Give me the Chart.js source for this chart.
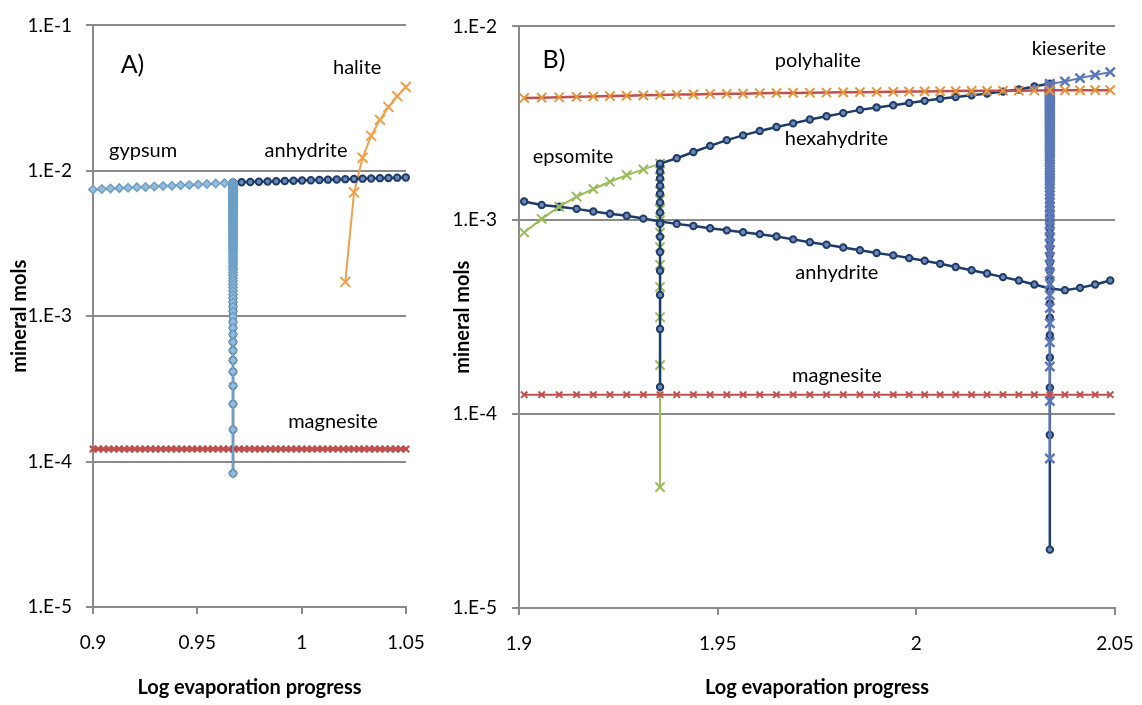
<!DOCTYPE html>
<html>
<head>
    <title>Mineral sequence during evaporation</title>
    <style>
        body {
            margin: 0;
            background: #ffffff;
            width: 1142px;
            height: 705px;
            overflow: hidden;
            position: relative;
        }
        canvas {
            position: absolute;
            top: 0;
        }
        #chartA { left: 0; }
        #chartB { left: 420px; }
    </style>
    <script src="https://cdn.jsdelivr.net/npm/chart.js"></script>
</head>
<body>
    <canvas id="chartA" width="440" height="705"></canvas>
    <canvas id="chartB" width="722" height="705"></canvas>
    <script>
        // all amounts below are in mmol, converted to mol when plotted
        const MMOL = 1e-3;

        // ---------- panel A: gypsum -> anhydrite, halite ----------
        const xTicksA = [0.9, 0.95, 1, 1.05];
        const xTickLabelsA = ['0.9', '0.95', '1', '1.05'];
        const yTicksA = [1e-5, 1e-4, 1e-3, 1e-2, 1e-1];
        const yTickLabelsA = ['1.E-5', '1.E-4', '1.E-3', '1.E-2', '1.E-1'];

        const transitionXA = 0.9671;

        const gypsumXA = [0.9000, 0.9042, 0.9084, 0.9126, 0.9168, 0.9210, 0.9252, 0.9294, 0.9336, 0.9378,
            0.9420, 0.9462, 0.9504, 0.9546, 0.9588, 0.9630, 0.9671];
        const gypsumYA = [7.45, 7.50, 7.55, 7.60, 7.65, 7.70, 7.75, 7.80, 7.85, 7.90,
            7.95, 8.00, 8.05, 8.11, 8.17, 8.23, 8.30];
        const gypsumDropA = [8.217, 8.134, 8.051, 7.968, 7.885, 7.802, 7.719, 7.636, 7.553, 7.470,
            7.387, 7.304, 7.221, 7.138, 7.055, 6.972, 6.889, 6.806, 6.723, 6.640,
            6.557, 6.474, 6.391, 6.308, 6.225, 6.142, 6.059, 5.976, 5.893, 5.810,
            5.727, 5.644, 5.561, 5.478, 5.395, 5.312, 5.229, 5.146, 5.063, 4.980,
            4.897, 4.814, 4.731, 4.648, 4.565, 4.482, 4.399, 4.316, 4.233, 4.150,
            4.067, 3.984, 3.901, 3.818, 3.735, 3.652, 3.569, 3.486, 3.403, 3.320,
            3.237, 3.154, 3.071, 2.988, 2.905, 2.822, 2.739, 2.656, 2.573, 2.490,
            2.407, 2.324, 2.241, 2.158, 2.075, 1.992, 1.909, 1.826, 1.743, 1.660,
            1.577, 1.494, 1.411, 1.328, 1.245, 1.162, 1.079, 0.996, 0.913, 0.830,
            0.747, 0.664, 0.581, 0.498, 0.415, 0.332, 0.249, 0.166, 0.083];

        const anhydriteRiseA = [0.083, 0.166, 0.249, 0.332, 0.415, 0.498, 0.581, 0.664, 0.747, 0.830,
            0.913, 0.996, 1.079, 1.162, 1.245, 1.328, 1.411, 1.494, 1.577, 1.660,
            1.743, 1.826, 1.909, 1.992, 2.075, 2.158, 2.241, 2.324, 2.407, 2.490,
            2.573, 2.656, 2.739, 2.822, 2.905, 2.988, 3.071, 3.154, 3.237, 3.320,
            3.403, 3.486, 3.569, 3.652, 3.735, 3.818, 3.901, 3.984, 4.067, 4.150,
            4.233, 4.316, 4.399, 4.482, 4.565, 4.648, 4.731, 4.814, 4.897, 4.980,
            5.063, 5.146, 5.229, 5.312, 5.395, 5.478, 5.561, 5.644, 5.727, 5.810,
            5.893, 5.976, 6.059, 6.142, 6.225, 6.308, 6.391, 6.474, 6.557, 6.640,
            6.723, 6.806, 6.889, 6.972, 7.055, 7.138, 7.221, 7.304, 7.387, 7.470,
            7.553, 7.636, 7.719, 7.802, 7.885, 7.968, 8.051, 8.134, 8.217];
        const anhydriteXA = [0.9671, 0.9712, 0.9754, 0.9795, 0.9837, 0.9878, 0.9919, 0.9961, 1.0002, 1.0044,
            1.0085, 1.0126, 1.0168, 1.0209, 1.0251, 1.0292, 1.0333, 1.0375, 1.0416, 1.0458, 1.0499];
        const anhydriteYA = [8.30, 8.34, 8.37, 8.41, 8.44, 8.48, 8.51, 8.55, 8.58, 8.62,
            8.65, 8.69, 8.72, 8.76, 8.79, 8.83, 8.86, 8.90, 8.93, 8.97, 9.00];

        const haliteXA = [1.0209, 1.0251, 1.0292, 1.0333, 1.0375, 1.0416, 1.0458, 1.0499];
        const haliteYA = [1.72, 7.1, 12.3, 17.4, 22.4, 27.5, 32.6, 37.7];

        const magnesiteXA = [0.9000, 0.9025, 0.9050, 0.9075, 0.9100, 0.9125, 0.9150, 0.9175, 0.9200, 0.9225,
            0.9250, 0.9275, 0.9300, 0.9325, 0.9350, 0.9375, 0.9400, 0.9425, 0.9450, 0.9475,
            0.9500, 0.9525, 0.9550, 0.9575, 0.9600, 0.9625, 0.9650, 0.9675, 0.9700, 0.9725,
            0.9750, 0.9775, 0.9800, 0.9825, 0.9850, 0.9875, 0.9900, 0.9925, 0.9950, 0.9975,
            1.0000, 1.0025, 1.0050, 1.0075, 1.0100, 1.0125, 1.0150, 1.0175, 1.0200, 1.0225,
            1.0250, 1.0275, 1.0300, 1.0325, 1.0350, 1.0375, 1.0400, 1.0425, 1.0450, 1.0475, 1.0500];
        const magnesiteYA = [0.122, 0.122, 0.122, 0.122, 0.122, 0.122, 0.122, 0.122, 0.122, 0.122,
            0.122, 0.122, 0.122, 0.122, 0.122, 0.122, 0.122, 0.122, 0.122, 0.122,
            0.122, 0.122, 0.122, 0.122, 0.122, 0.122, 0.122, 0.122, 0.122, 0.122,
            0.122, 0.122, 0.122, 0.122, 0.122, 0.122, 0.122, 0.122, 0.122, 0.122,
            0.122, 0.122, 0.122, 0.122, 0.122, 0.122, 0.122, 0.122, 0.122, 0.122,
            0.122, 0.122, 0.122, 0.122, 0.122, 0.122, 0.122, 0.122, 0.122, 0.122, 0.122];

        // ---------- panel B: Mg sulfates ----------
        const xTicksB = [1.9, 1.95, 2, 2.05];
        const xTickLabelsB = ['1.9', '1.95', '2', '2.05'];
        const yTicksB = [1e-5, 1e-4, 1e-3, 1e-2];
        const yTickLabelsB = ['1.E-5', '1.E-4', '1.E-3', '1.E-2'];

        const xB = [1.9013, 1.9057, 1.9101, 1.9145, 1.9187, 1.9229, 1.9271, 1.9313, 1.9355, 1.9397,
            1.9439, 1.9481, 1.9523, 1.9564, 1.9606, 1.9648, 1.9690, 1.9732, 1.9774, 1.9816,
            1.9858, 1.9900, 1.9942, 1.9982, 2.0021, 2.0060, 2.0099, 2.0139, 2.0178, 2.0218,
            2.0258, 2.0297, 2.0336, 2.0374, 2.0412, 2.0450, 2.0488];

        const polyhaliteB = [4.27, 4.29, 4.31, 4.33, 4.35, 4.37, 4.39, 4.41, 4.43, 4.45,
            4.46, 4.48, 4.49, 4.50, 4.52, 4.53, 4.54, 4.55, 4.56, 4.57,
            4.58, 4.59, 4.60, 4.61, 4.62, 4.63, 4.64, 4.65, 4.65, 4.66,
            4.66, 4.67, 4.68, 4.68, 4.68, 4.69, 4.69];

        const anhydriteB = [1.25, 1.20, 1.175, 1.145, 1.11, 1.08, 1.055, 1.02, 0.985, 0.958,
            0.935, 0.910, 0.887, 0.868, 0.848, 0.824, 0.797, 0.771, 0.748, 0.724,
            0.700, 0.678, 0.659, 0.638, 0.618, 0.596, 0.574, 0.552, 0.531, 0.509,
            0.489, 0.466, 0.445, 0.436, 0.448, 0.466, 0.489];

        const magnesiteB = [0.126, 0.126, 0.126, 0.126, 0.126, 0.126, 0.126, 0.126, 0.126, 0.126,
            0.126, 0.126, 0.126, 0.126, 0.126, 0.126, 0.126, 0.126, 0.126, 0.126,
            0.126, 0.126, 0.126, 0.126, 0.126, 0.126, 0.126, 0.126, 0.126, 0.126,
            0.126, 0.126, 0.126, 0.126, 0.126, 0.126, 0.126];

        // epsomite on xB[0..8], then dissolves at xB[8]
        const epsomiteB = [0.865, 1.016, 1.175, 1.325, 1.45, 1.58, 1.71, 1.83, 1.96];
        const epsomiteDropB = [1.823, 1.686, 1.549, 1.412, 1.275, 1.138, 1.001, 0.864, 0.727, 0.590,
            0.453, 0.316, 0.179, 0.042];

        // hexahydrite forms at xB[8], grows on xB[8..32], dissolves at xB[32]
        const hexahydriteRiseB = [0.138, 0.275, 0.412, 0.549, 0.686, 0.823, 0.960, 1.097, 1.234, 1.371,
            1.508, 1.645, 1.782, 1.919];
        const hexahydriteB = [1.96, 2.09, 2.25, 2.42, 2.59, 2.74, 2.89, 3.03, 3.16, 3.31,
            3.44, 3.57, 3.71, 3.82, 3.92, 4.03, 4.13, 4.23, 4.32, 4.41,
            4.50, 4.61, 4.73, 4.90, 5.07];
        const hexahydriteDropB = [5.018, 4.959, 4.900, 4.841, 4.782, 4.724, 4.665, 4.606, 4.547, 4.488,
            4.430, 4.371, 4.312, 4.253, 4.194, 4.136, 4.077, 4.018, 3.959, 3.900,
            3.842, 3.783, 3.724, 3.665, 3.606, 3.548, 3.489, 3.430, 3.371, 3.312,
            3.254, 3.195, 3.136, 3.077, 3.018, 2.960, 2.901, 2.842, 2.783, 2.724,
            2.666, 2.607, 2.548, 2.489, 2.430, 2.372, 2.313, 2.254, 2.195, 2.136,
            2.078, 2.019, 1.960, 1.901, 1.842, 1.784, 1.725, 1.666, 1.607, 1.548,
            1.490, 1.431, 1.372, 1.313, 1.254, 1.196, 1.137, 1.078, 1.019, 0.960,
            0.902, 0.843, 0.784, 0.725, 0.666, 0.608, 0.549, 0.490, 0.431, 0.372,
            0.314, 0.255, 0.196, 0.137, 0.078, 0.020];

        // kieserite forms at xB[32], grows on xB[33..36]
        const kieseriteRiseB = [0.059, 0.117, 0.176, 0.235, 0.294, 0.353, 0.411, 0.470, 0.529, 0.588,
            0.647, 0.705, 0.764, 0.823, 0.882, 0.941, 0.999, 1.058, 1.117, 1.176,
            1.235, 1.293, 1.352, 1.411, 1.470, 1.529, 1.587, 1.646, 1.705, 1.764,
            1.823, 1.881, 1.940, 1.999, 2.058, 2.117, 2.175, 2.234, 2.293, 2.352,
            2.411, 2.469, 2.528, 2.587, 2.646, 2.705, 2.763, 2.822, 2.881, 2.940,
            2.999, 3.057, 3.116, 3.175, 3.234, 3.293, 3.351, 3.410, 3.469, 3.528,
            3.587, 3.645, 3.704, 3.763, 3.822, 3.881, 3.939, 3.998, 4.057, 4.116,
            4.175, 4.233, 4.292, 4.351, 4.410, 4.469, 4.527, 4.586, 4.645, 4.704,
            4.763, 4.821, 4.880, 4.939, 4.998, 5.057];
        const kieseriteB = [5.20, 5.41, 5.62, 5.81];

        // ---------- helpers ----------
        const GRID = '#8a8a8a';
        const NAVY = '#1d3b6c';
        const FONT = 'Lato, sans-serif';
        Chart.defaults.font.family = FONT;

        const pts = (xs, ys) => xs.map((x, i) => ({ x: x, y: ys[i] * MMOL }));
        const column = (x, ys) => ys.map(y => ({ x: x, y: y * MMOL }));

        function series(data, color, style) {
            return Object.assign({
                data: data,
                showLine: true,
                borderColor: color,
                borderWidth: 2,
                pointBorderColor: color,
                pointBackgroundColor: color,
                pointStyle: 'crossRot',
                pointRadius: 6,
                pointBorderWidth: 2,
                clip: false
            }, style || {});
        }

        // text labels placed at data coordinates
        const textMarks = {
            id: 'textMarks',
            afterDatasetsDraw(chart, args, opts) {
                const ctx = chart.ctx;
                const xs = chart.scales.x, ys = chart.scales.y;
                ctx.save();
                ctx.fillStyle = '#000';
                ctx.textAlign = 'center';
                ctx.textBaseline = 'middle';
                opts.items.forEach(t => {
                    ctx.font = (t.size || 20) + 'px ' + FONT;
                    ctx.fillText(t.text, xs.getPixelForValue(t.x), ys.getPixelForValue(t.y));
                });
                ctx.restore();
            }
        };

        function scales(c) {
            return {
                x: {
                    type: 'linear',
                    min: c.xTicks[0],
                    max: c.xTicks[c.xTicks.length - 1],
                    afterBuildTicks: s => { s.ticks = c.xTicks.map(v => ({ value: v })); },
                    afterFit: s => {
                        s.height = c.xHeight;
                        // plot edges are set by the layout padding alone
                        s.paddingLeft = 0;
                        s.paddingRight = 0;
                    },
                    ticks: {
                        callback: (v, i) => c.xLabels[i],
                        font: { size: 19 },
                        color: '#000',
                        padding: 17,
                        maxRotation: 0,
                        autoSkip: false
                    },
                    grid: { drawOnChartArea: false, drawTicks: true, tickLength: 7, color: GRID, lineWidth: 2 },
                    border: { color: GRID, width: 2 },
                    title: {
                        display: true,
                        text: 'Log evaporation progress',
                        color: '#000',
                        font: { size: 20, weight: 'bold' },
                        padding: { top: 0, bottom: 5 }
                    }
                },
                y: {
                    type: 'logarithmic',
                    min: c.yTicks[0],
                    max: c.yTicks[c.yTicks.length - 1],
                    afterBuildTicks: s => { s.ticks = c.yTicks.map(v => ({ value: v })); },
                    afterFit: s => { s.width = c.yWidth; },
                    ticks: {
                        callback: (v, i) => c.yLabels[i],
                        font: { size: 19 },
                        color: '#000',
                        padding: c.yPad
                    },
                    grid: { drawTicks: true, tickLength: 7, color: GRID, lineWidth: 2 },
                    border: { color: GRID, width: 2 },
                    title: {
                        display: true,
                        text: 'mineral mols',
                        color: '#000',
                        font: { size: 20, weight: 'bold' },
                        padding: { top: c.yTitlePad, bottom: 0 }
                    }
                }
            };
        }

        const baseOptions = {
            responsive: false,
            devicePixelRatio: 1,
            animation: false,
            plugins: { legend: { display: false }, tooltip: { enabled: false } }
        };

        const circleMarks = {
            borderWidth: 2.5, pointStyle: 'circle', pointRadius: 3.2, pointBorderWidth: 2,
            pointBackgroundColor: '#7089b2'
        };

        // ---------- panel A ----------
        new Chart(document.getElementById('chartA'), {
            type: 'scatter',
            data: {
                datasets: [
                    series(pts(gypsumXA, gypsumYA).concat(column(transitionXA, gypsumDropA)), '#6d9fc6', {
                        pointStyle: 'rectRot', pointRadius: 4.2, pointBorderWidth: 1.5,
                        pointBackgroundColor: '#97bbdb'
                    }),
                    series(column(transitionXA, anhydriteRiseA).concat(pts(anhydriteXA, anhydriteYA)), NAVY, circleMarks),
                    series(pts(haliteXA, haliteYA), '#f0a04b', { pointRadius: 7 }),
                    series(pts(magnesiteXA, magnesiteYA), '#c0504d', { pointRadius: 4.5, pointBorderWidth: 2.3 })
                ]
            },
            options: Object.assign({}, baseOptions, {
                layout: { padding: { top: 22, right: 34, bottom: 0, left: 0 } },
                scales: scales({
                    xTicks: xTicksA, xLabels: xTickLabelsA, xHeight: 98,
                    yTicks: yTicksA, yLabels: yTickLabelsA, yWidth: 93, yPad: 14, yTitlePad: 8
                }),
                plugins: Object.assign({}, baseOptions.plugins, {
                    textMarks: {
                        items: [
                            { text: 'A)', x: 0.9189, y: 0.0533, size: 25 },
                            { text: 'halite', x: 1.0266, y: 0.0516 },
                            { text: 'gypsum', x: 0.924, y: 0.01375 },
                            { text: 'anhydrite', x: 1.0021, y: 0.01375 },
                            { text: 'magnesite', x: 1.015, y: 1.90e-4 }
                        ]
                    }
                })
            }),
            plugins: [textMarks]
        });

        // ---------- panel B ----------
        new Chart(document.getElementById('chartB'), {
            type: 'scatter',
            data: {
                datasets: [
                    series(pts(xB, magnesiteB), '#c0504d', { pointRadius: 4.5 }),
                    series(pts(xB, polyhaliteB), '#c0504d', {
                        borderWidth: 2.5,
                        pointBorderColor: '#e5963b', pointBackgroundColor: '#e5963b', pointRadius: 6.5
                    }),
                    series(column(xB[32], kieseriteRiseB).concat(pts(xB.slice(33), kieseriteB)), '#5d78b8', {
                        pointRadius: 6.5, pointBorderWidth: 2.5
                    }),
                    series(column(xB[8], hexahydriteRiseB)
                        .concat(pts(xB.slice(8, 33), hexahydriteB))
                        .concat(column(xB[32], hexahydriteDropB)), NAVY, circleMarks),
                    series(pts(xB.slice(0, 9), epsomiteB).concat(column(xB[8], epsomiteDropB)), '#9bbb59', {
                        pointRadius: 6.5
                    }),
                    series(pts(xB, anhydriteB), NAVY, circleMarks)
                ]
            },
            options: Object.assign({}, baseOptions, {
                layout: { padding: { top: 24, right: 27, bottom: 0, left: 0 } },
                scales: scales({
                    xTicks: xTicksB, xLabels: xTickLabelsB, xHeight: 97,
                    yTicks: yTicksB, yLabels: yTickLabelsB, yWidth: 99, yPad: 15, yTitlePad: 31
                }),
                plugins: Object.assign({}, baseOptions.plugins, {
                    textMarks: {
                        items: [
                            { text: 'B)', x: 1.9088, y: 6.69e-3, size: 25 },
                            { text: 'polyhalite', x: 1.9752, y: 6.69e-3 },
                            { text: 'kieserite', x: 2.0384, y: 7.70e-3 },
                            { text: 'epsomite', x: 1.9136, y: 2.12e-3 },
                            { text: 'hexahydrite', x: 1.9799, y: 2.63e-3 },
                            { text: 'anhydrite', x: 1.98, y: 5.39e-4 },
                            { text: 'magnesite', x: 1.98, y: 1.575e-4 }
                        ]
                    }
                })
            }),
            plugins: [textMarks]
        });
    </script>
</body>
</html>
